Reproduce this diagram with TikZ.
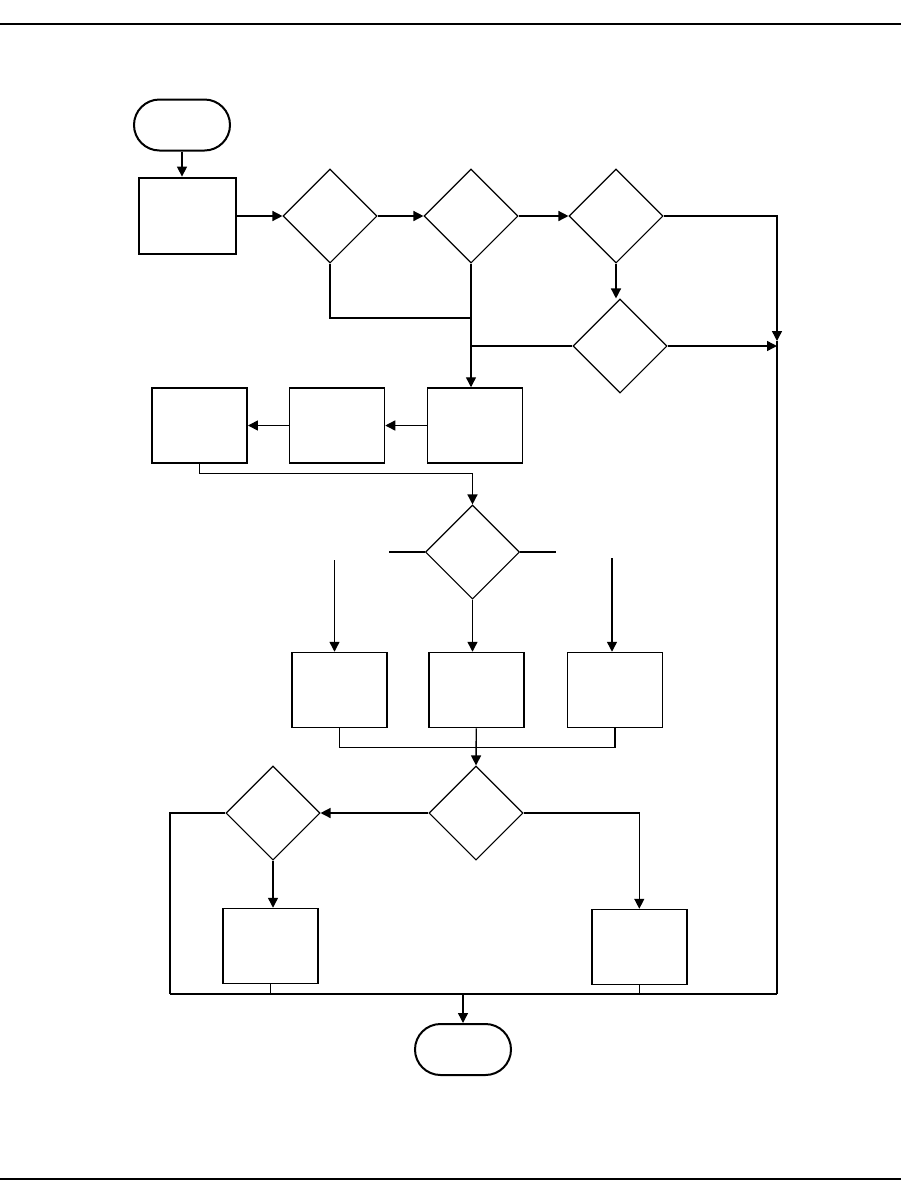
\documentclass[tikz,border=0pt]{standalone}
\usepackage{tikz}
\usetikzlibrary{shapes.geometric,arrows.meta}
\begin{document}
\begin{tikzpicture}[x=0.5pt,y=-0.5pt,line width=0.7pt,every node/.style={inner sep=0pt},
box/.style={draw,line width=0.75pt,minimum width=47.5pt,minimum height=37.5pt},
dec/.style={draw,diamond,line width=0.55pt,minimum width=47pt,minimum height=47pt},
term/.style={draw,line width=1pt,rounded corners=12.75pt,minimum width=48pt,minimum height=25.5pt},
arr/.style={-{Triangle[length=5pt,width=5pt]}}]
\useasboundingbox (0,0) rectangle (901,1201);
\draw[line width=1pt] (0,24) -- (901,24);
\draw[line width=1pt] (0,1179) -- (901,1179);
\node[term](S) at (182,125){} ;
\node[box,line width=1.4pt,minimum width=48.5pt,minimum height=38pt](P1) at (187.5,216){} ;
\node[dec](D1) at (330,216){} ;
\node[dec](D2) at (471,216){} ;
\node[dec](D3) at (616,216){} ;
\node[dec](D4) at (620,346){} ;
\node[box](A) at (199.7,425.5){} ;
\node[box](B) at (337,425.5){} ;
\node[box](C) at (475,425.5){} ;
\node[dec](D5) at (472.5,552){} ;
\node[box](D) at (339.5,690){} ;
\node[box](E) at (476.3,690){} ;
\node[box](F) at (615,690){} ;
\node[dec](D6) at (476,813){} ;
\node[dec](D7) at (273,813){} ;
\node[box](G) at (270.6,946){} ;
\node[box](H) at (639.3,947){} ;
\node[term](T) at (463,1049.5){} ;
\coordinate(K1) at (472,318) ;
\coordinate(J1) at (777,341) ;
\coordinate(J2) at (777,994) ;
\coordinate(J3) at (170,994) ;
\coordinate(L1) at (389,552) ;
\coordinate(L2) at (556,552) ;
\coordinate(M1) at (334.5,560) ;
\coordinate(M2) at (612,558) ;
\draw[arr] (S.south) -- (S.south |- P1.north);
\draw[arr] (P1.east) -- (D1.west);
\draw[arr] (D1.east) -- (D2.west);
\draw[arr] (D2.east) -- (D3.west);
\draw[arr] (D3.east) -| (J1);
\draw (J1) -- (J2);
\draw[arr] (D3.south) -- (D3.south |- D4.north);
\draw[arr] (D4.east) -- (D4.east -| J1);
\draw (D1.south) |- (K1);
\draw[arr] (D2.south) -- (D2.south |- C.north);
\draw (D2.south |- D4.west) -- (D4.west);
\draw[arr] (C.west) -- (B.east);
\draw[arr] (B.west) -- (A.east);
\draw[arr] (A.south) -- ++(0,10) -| (D5.north);
\draw (D5.west) -- (L1);
\draw (D5.east) -- (L2);
\draw[arr] (M1) -- (M1 |- D.north);
\draw[arr] (M2) -- (M2 |- F.north);
\draw[arr] (D5.south) -- (D5.south |- E.north);
\draw (D.south) -- ++(0,19) -| (F.south);
\draw[arr] (E.south) -- (D6.north);
\draw[arr] (D6.west) -- (D7.east);
\draw[arr] (D6.east) -| (H.north);
\draw[arr] (D7.south) -- (D7.south |- G.north);
\draw (D7.west) -| (J3);
\draw (J3) -- (J2);
\draw (G.south) -- (G.south |- J3);
\draw (H.south) -- (H.south |- J3);
\draw[arr] (T.north |- J3) -- (T.north);
\end{tikzpicture}
\end{document}
